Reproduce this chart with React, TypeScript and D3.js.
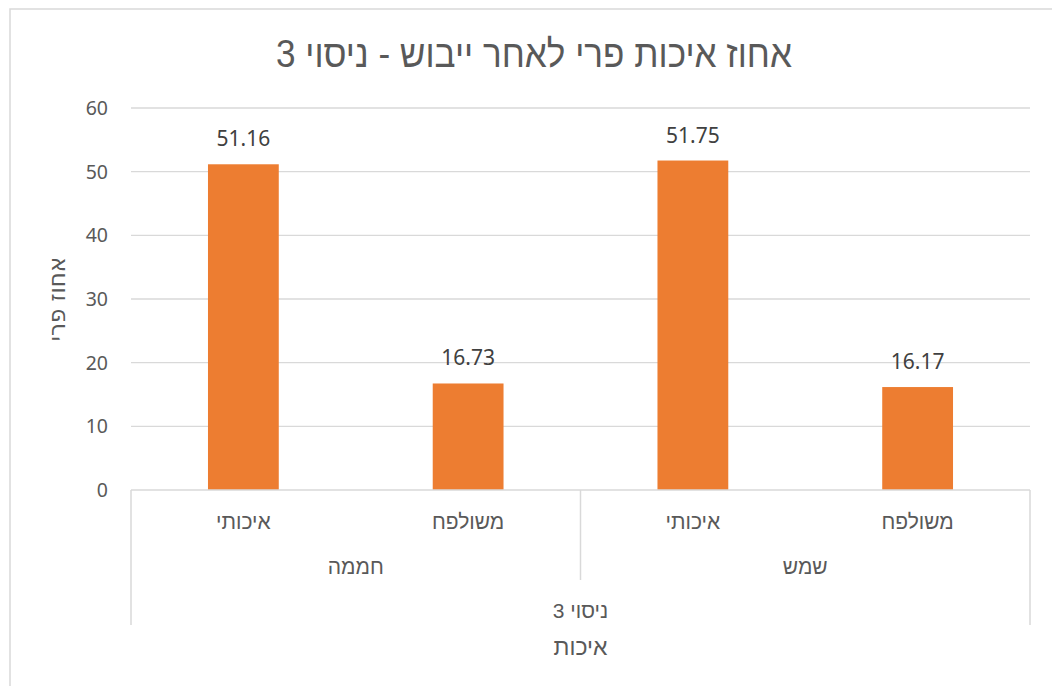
import React from "react";
import * as d3 from "d3";

const chartTitle = "אחוז איכות פרי לאחר ייבוש - ניסוי 3";
const yAxisTitle = "אחוז פרי";
const xAxisTitle = "איכות";
const topLevel = "ניסוי 3";
const groups = ["חממה", "שמש"];
const treatments = ["איכותי", "משולפח"];
const values = [51.16, 16.73, 51.75, 16.17];
const yTicks = [0, 10, 20, 30, 40, 50, 60];

const W = 1052;
const H = 686;
const plot = { left: 131, right: 1030, top: 108, bottom: 490 };
const GRID = "#d9d9d9";
const TXT = "#595959";
const BAR = "#ed7d31";
const HEB = "'Liberation Sans', Arial, sans-serif";
const NUM = "'Noto Sans', 'Open Sans', sans-serif";

const categories = groups.flatMap((g) => treatments.map((t) => ({ group: g, treatment: t, key: g + "|" + t })));

export default function App() {
  const x = d3.scaleBand<string>().domain(categories.map((c) => c.key)).range([plot.left, plot.right]).padding(0);
  const y = d3.scaleLinear().domain([0, 60]).range([plot.bottom, plot.top]);
  const bw = x.bandwidth();
  const barW = bw * 0.315;
  const groupW = bw * treatments.length;

  return (
    <svg width={W} height={H} style={{ position: "absolute", left: 0, top: 0, background: "#fff" }}>
      <rect x={10} y={9} width={W + 40} height={H + 40} fill="#fff" stroke={GRID} strokeWidth={1.5} />
      <text
        x={534}
        y={67}
        textAnchor="middle"
        direction="rtl"
        fontFamily={HEB}
        fontSize={38}
        fill={TXT}
        textLength={516}
        lengthAdjust="spacingAndGlyphs"
      >
        {chartTitle}
      </text>
      {yTicks.map((t) => (
        <g key={t}>
          {t > 0 && <line x1={plot.left} x2={plot.right} y1={y(t)} y2={y(t)} stroke={GRID} strokeWidth={1.3} />}
          <text x={108} y={y(t)} dy="0.36em" textAnchor="end" fontFamily={NUM} fontSize={19.5} fill={TXT}>
            {t}
          </text>
        </g>
      ))}
      <text
        transform={`translate(57,${(plot.top + plot.bottom) / 2}) rotate(-90)`}
        textAnchor="middle"
        dy="0.35em"
        direction="rtl"
        fontFamily="'DejaVu Sans', sans-serif"
        fontSize={23}
        fill={TXT}
      >
        {yAxisTitle}
      </text>
      {categories.map((c, i) => {
        const cx = (x(c.key) as number) + bw / 2;
        return (
          <g key={c.key}>
            <rect x={cx - barW / 2} y={y(values[i])} width={barW} height={y(0) - y(values[i])} fill={BAR} />
            <text x={cx} y={y(values[i]) - 18} textAnchor="middle" fontFamily={NUM} fontSize={21} fill="#404040">
              {values[i].toFixed(2)}
            </text>
            <text x={cx} y={529} textAnchor="middle" direction="rtl" fontFamily={HEB} fontSize={21} fill={TXT}>
              {c.treatment}
            </text>
          </g>
        );
      })}
      <line x1={plot.left} x2={plot.right} y1={plot.bottom} y2={plot.bottom} stroke={GRID} strokeWidth={1.5} />
      <line x1={plot.left} x2={plot.left} y1={plot.bottom} y2={625} stroke={GRID} strokeWidth={1.5} />
      <line x1={plot.right} x2={plot.right} y1={plot.bottom} y2={625} stroke={GRID} strokeWidth={1.5} />
      {groups.map((g, gi) => {
        const gx = plot.left + gi * groupW;
        return (
          <g key={g}>
            {gi > 0 && <line x1={gx} x2={gx} y1={plot.bottom} y2={580} stroke={GRID} strokeWidth={1.5} />}
            <text x={gx + groupW / 2} y={574} textAnchor="middle" direction="rtl" fontFamily={HEB} fontSize={21} fill={TXT}>
              {g}
            </text>
          </g>
        );
      })}
      <text x={(plot.left + plot.right) / 2} y={618} textAnchor="middle" direction="rtl" fontFamily={HEB} fontSize={21} fill={TXT}>
        {topLevel}
      </text>
      <text x={(plot.left + plot.right) / 2} y={655} textAnchor="middle" direction="rtl" fontFamily={HEB} fontSize={23} fill={TXT}>
        {xAxisTitle}
      </text>
    </svg>
  );
}
